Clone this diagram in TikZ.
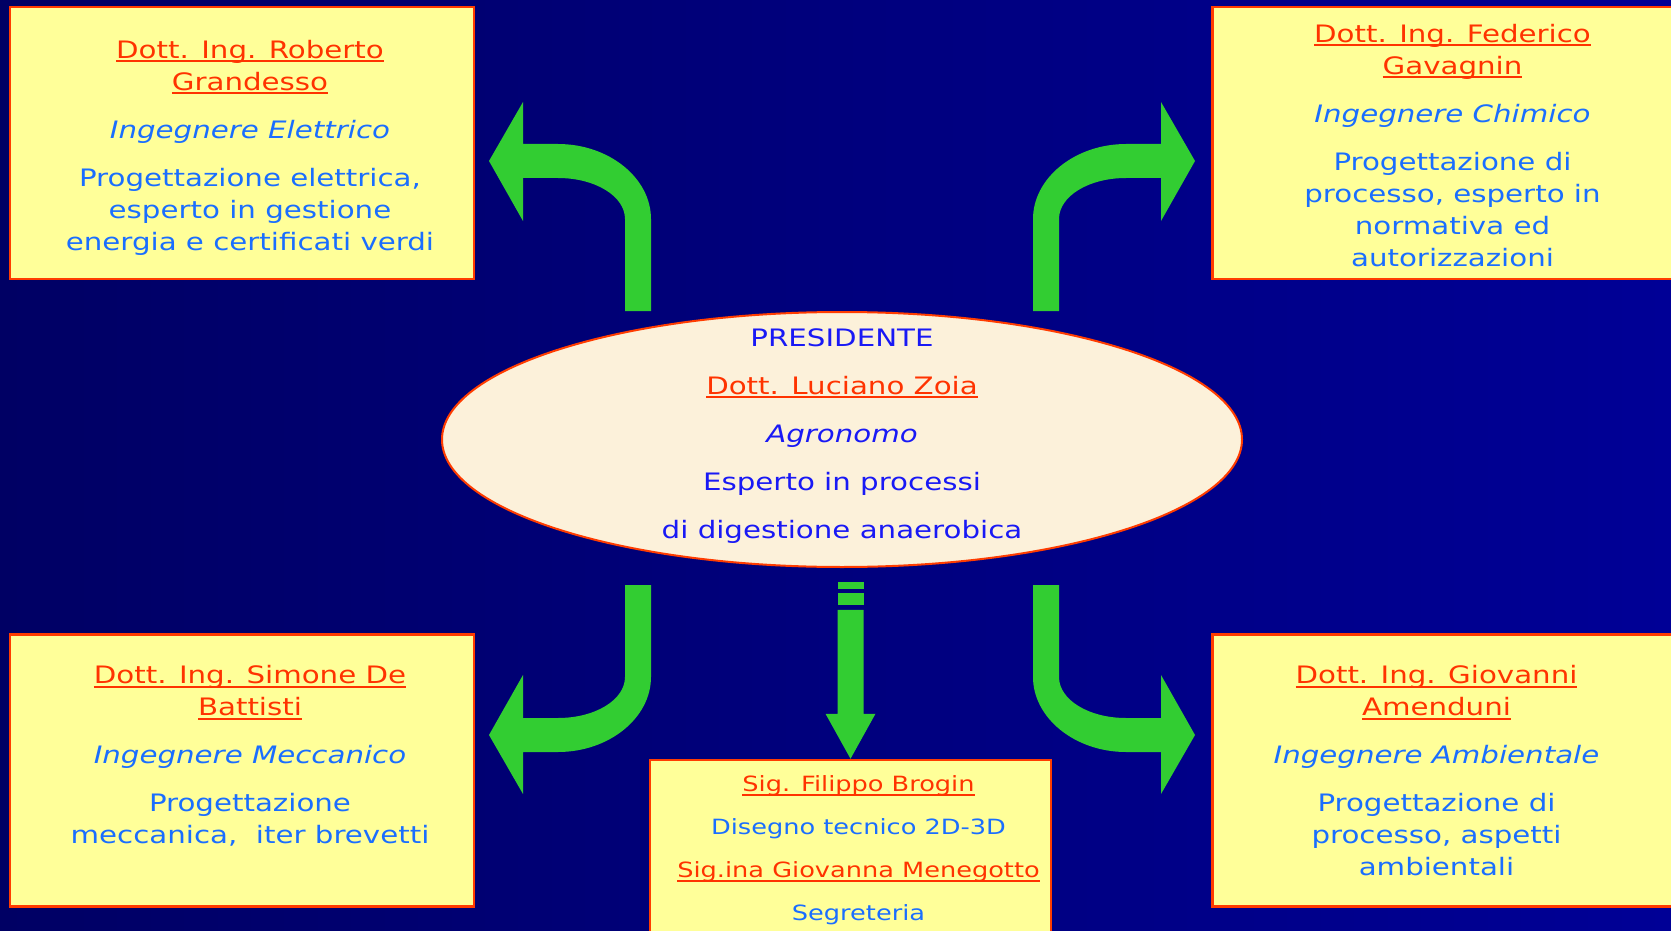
\documentclass[tikz,border=0pt]{standalone}
\usepackage{fontspec}
\setmainfont[FakeStretch=1.22]{DejaVu Sans}
\usetikzlibrary{positioning,shapes.geometric}

\definecolor{bgleft}{RGB}{0,0,100}
\definecolor{bgright}{RGB}{0,0,150}
\definecolor{cardfill}{RGB}{255,255,153}
\definecolor{cardline}{RGB}{255,60,0}
\definecolor{namecol}{RGB}{255,51,0}
\definecolor{textblue}{RGB}{26,110,255}
\definecolor{presblue}{RGB}{25,25,245}
\definecolor{presfill}{RGB}{252,241,218}
\definecolor{arrowgreen}{RGB}{50,205,50}

\newsavebox\nmbox
\newcommand\nmul[1]{\sbox\nmbox{#1}\rlap{\rule[-4.2pt]{\wd\nmbox}{2.2pt}}\usebox\nmbox}
\newcommand\nm[1]{\textcolor{namecol}{\nmul{#1}}}

\tikzset{
bendarrow/.pic={
\fill[arrowgreen] (13,0) -- (13,-92) .. controls (13,-133) and (-29,-167) .. (-80,-167) -- (-115,-167) -- (-115,-209) -- (-149,-150) -- (-115,-90) -- (-115,-133) -- (-80,-133) .. controls (-43,-133) and (-13,-115) .. (-13,-92) -- (-13,0) -- cycle;
}
}

\begin{document}
\begin{tikzpicture}[x=1pt,y=-1pt,
card/.style={rectangle, draw=cardline, fill=cardfill, line width=2.5pt, minimum width=464pt, minimum height=272pt},
cardtext/.style={align=center, inner sep=0pt, text=textblue, font=\fontsize{24}{32}\selectfont},
]
\useasboundingbox (0,0) rectangle (1671,931);
\shade[left color=bgleft, right color=bgright] (0,0) rectangle (1671,931);

%Nodes
\node[card]      (ele)   at (242,143)           {};
\node[card, minimum width=480pt]      (chi)   [right=736pt of ele]   {};
\node[card]      (mec)   [below=353pt of ele]   {};
\node[card, minimum width=480pt]      (amb)   [below=353pt of chi]   {};
\node[card, minimum width=401pt, minimum height=200pt] (staff) at (850.5,860) {};
\node[ellipse, draw=cardline, fill=presfill, line width=2pt, minimum width=800pt, minimum height=255pt, inner sep=0pt] (pres) at (842,439.5) {};

\node[cardtext, below=34pt of ele.north, xshift=8pt] (eletext) {\nm{Dott. Ing. Roberto}\\ \nm{Grandesso}\\[16pt] \textit{Ingegnere Elettrico}\\[16pt] Progettazione elettrica,\\ esperto in gestione\\ energia e certificati verdi};
\node[cardtext, below=18pt of chi.north] (chitext) {\nm{Dott. Ing. Federico}\\ \nm{Gavagnin}\\[16pt] \textit{Ingegnere Chimico}\\[16pt] Progettazione di\\ processo, esperto in\\ normativa ed\\ autorizzazioni};
\node[cardtext, below=32pt of mec.north, xshift=8pt] (mectext) {\nm{Dott. Ing. Simone De}\\ \nm{Battisti}\\[16pt] \textit{Ingegnere Meccanico}\\[16pt] Progettazione\\ meccanica,~ iter brevetti};
\node[cardtext, below=32pt of amb.north, xshift=-16pt] (ambtext) {\nm{Dott. Ing. Giovanni}\\ \nm{Amenduni}\\[16pt] \textit{Ingegnere Ambientale}\\[16pt] Progettazione di\\ processo, aspetti\\ ambientali};
\node[cardtext, below=17pt of staff.north, xshift=8pt, font=\fontsize{21}{43}\selectfont] (stafftext) {\nm{Sig. Filippo Brogin}\\ Disegno tecnico 2D-3D\\ \nm{Sig.ina Giovanna Menegotto}\\ Segreteria};
\node[cardtext, below=17pt of pres.north, text=presblue, font=\fontsize{24}{48}\selectfont] (prestext) {PRESIDENTE\\ \nm{Dott. Luciano Zoia}\\ \textit{Agronomo}\\ Esperto in processi\\ di digestione anaerobica};

%Arrows
\pic at ([xshift=-204pt]pres.north) {bendarrow};
\pic[xscale=-1] at ([xshift=204pt]pres.north) {bendarrow};
\pic[yscale=-1] at ([xshift=-204pt,yshift=-17pt]pres.south) {bendarrow};
\pic[xscale=-1,yscale=-1] at ([xshift=204pt,yshift=-17pt]pres.south) {bendarrow};
\begin{scope}[shift={(staff.north)}]
\fill[arrowgreen] (-13,-177) rectangle (13,-170);
\fill[arrowgreen] (-13,-166) rectangle (13,-154);
\fill[arrowgreen] (-13,-149) -- (-13,-45) -- (-25,-45) -- (0,0) -- (25,-45) -- (13,-45) -- (13,-149) -- cycle;
\end{scope}
\end{tikzpicture}
\end{document}
